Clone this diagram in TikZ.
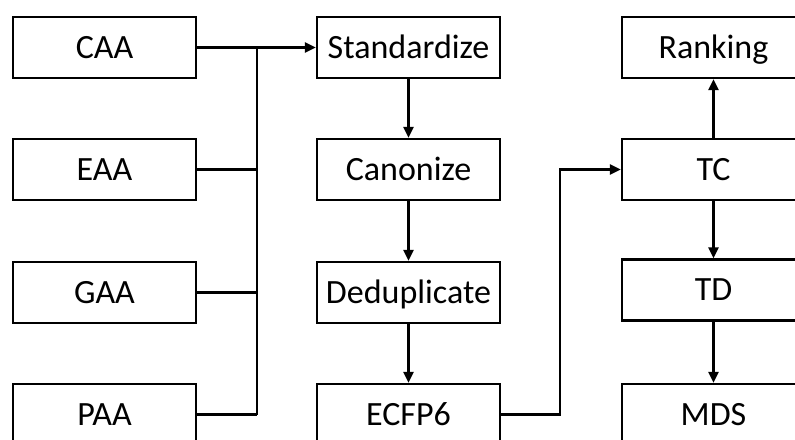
\documentclass[tikz,border=0pt]{standalone}
\usepackage{fontspec}
\setmainfont{Carlito}
\usetikzlibrary{arrows.meta}
\begin{document}
\begin{tikzpicture}[x=1bp,y=-1bp,
  box/.style={draw,line width=2.2bp,minimum width=183bp,minimum height=61bp,inner sep=0pt,text height=22bp,text depth=0bp,font=\fontsize{34bp}{38bp}\selectfont},
  conn/.style={line width=2.2bp},
  arr/.style={conn,-{Triangle[length=11bp,width=10bp]}}]
\useasboundingbox (0,0) rectangle (795,440);
\node[box] (caa) at (104.5,47.5) {CAA};
\node[box] (eaa) at (104.5,169.5) {EAA};
\node[box] (gaa) at (104.5,292.5) {GAA};
\node[box] (paa) at (104.5,414.5) {PAA};
\node[box] (std) at (408.5,47.5) {Standardize};
\node[box] (can) at (408.5,169.5) {Canonize};
\node[box] (ded) at (408.5,292.5) {Deduplicate};
\node[box] (ecf) at (408.5,414.5) {ECFP6};
\node[box] (rank) at (713.5,47.5) {Ranking};
\node[box] (tc) at (713.5,169.5) {TC};
\node[box] (td) at (713.5,290) {TD};
\node[box] (mds) at (713.5,414.5) {MDS};
\coordinate (bt) at (257,47.5);
\coordinate (bb) at (257,414.5);
\draw[arr] (caa) -- (std);
\draw[conn] (bt) -- (bb);
\draw[conn] (eaa.east) -- (eaa.east -| bt);
\draw[conn] (gaa.east) -- (gaa.east -| bt);
\draw[conn] (paa.east) -- (bb);
\draw[arr] (std) -- (can);
\draw[arr] (can) -- (ded);
\draw[arr] (ded) -- (ecf);
\coordinate (k) at (560,0);
\draw[arr] (ecf.east) -- (ecf.east -| k) |- (tc.west);
\draw[arr] (tc) -- (rank);
\draw[arr] (tc) -- (td);
\draw[arr] (td) -- (mds);
\end{tikzpicture}
\end{document}
